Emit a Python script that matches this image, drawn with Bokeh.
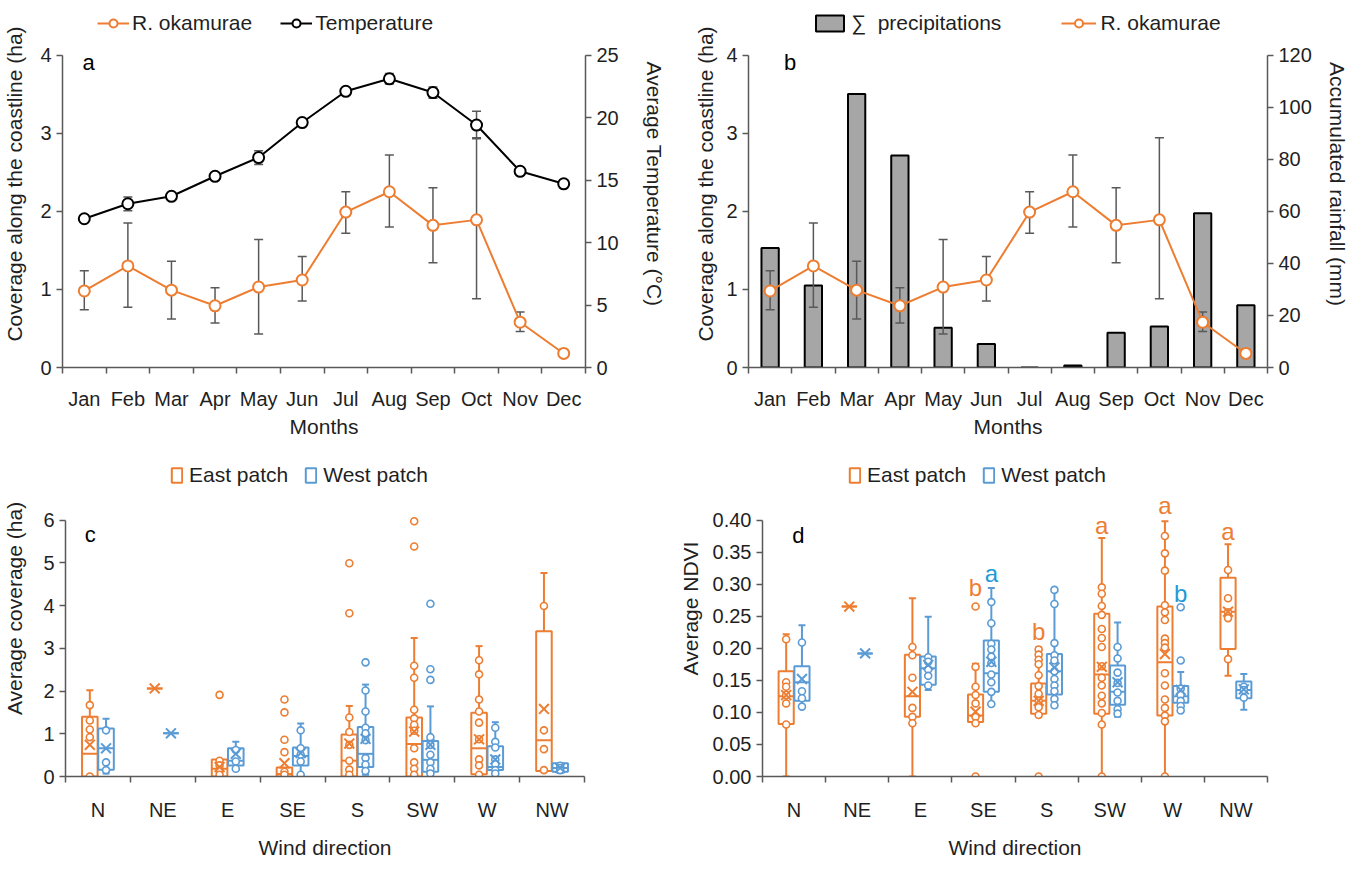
from bokeh.plotting import figure
from bokeh.models import Range1d, LinearAxis, FixedTicker, Legend, LegendItem, Label, NumeralTickFormatter
from bokeh.layouts import column, row
from bokeh.embed import file_html
from bokeh.resources import INLINE

# ---------------- data ----------------
months = ["Jan", "Feb", "Mar", "Apr", "May", "Jun", "Jul", "Aug", "Sep", "Oct", "Nov", "Dec"]
oka_mean = [0.98, 1.30, 0.99, 0.79, 1.03, 1.12, 1.99, 2.25, 1.82, 1.89, 0.58, 0.18]
oka_low = [0.74, 0.77, 0.62, 0.57, 0.43, 0.85, 1.72, 1.80, 1.34, 0.88, 0.46, 0.13]
oka_high = [1.24, 1.85, 1.36, 1.02, 1.64, 1.42, 2.25, 2.72, 2.30, 2.94, 0.71, 0.23]
temp_mean = [11.9, 13.1, 13.7, 15.3, 16.8, 19.6, 22.1, 23.1, 22.0, 19.4, 15.7, 14.7]
temp_err = [0.15, 0.55, 0.15, 0.15, 0.55, 0.15, 0.15, 0.42, 0.45, 1.1, 0.15, 0.15]
precip = [45.9, 31.5, 105.0, 81.4, 15.3, 9.0, 0.0, 0.8, 13.3, 15.7, 59.2, 23.9]

directions = ["N", "NE", "E", "SE", "S", "SW", "W", "NW"]

cov_east_q1 = [0.00, 2.06, 0.00, 0.00, 0.00, 0.00, 0.05, 0.13]
cov_east_med = [0.53, 2.06, 0.18, 0.06, 0.37, 0.76, 0.66, 0.85]
cov_east_q3 = [1.40, 2.06, 0.40, 0.21, 0.98, 1.38, 1.49, 3.40]
cov_east_lo = [0.00, 2.06, 0.00, 0.00, 0.00, 0.00, 0.00, 0.11]
cov_east_hi = [2.02, 2.06, 0.40, 0.21, 1.65, 3.24, 3.05, 4.76]
cov_east_mean = [0.74, 2.06, 0.22, 0.31, 0.77, 1.05, 0.87, 1.58]
cov_east_pts = [
    [1.67, 1.31, 1.10, 0.92, 0.00], [],
    [1.91, 0.37, 0.26, 0.15, 0.04],
    [1.80, 1.50, 0.86, 0.57, 0.11, 0.04],
    [4.99, 3.82, 1.38, 1.04, 0.74, 0.37, 0.16, 0.04],
    [5.97, 5.38, 2.59, 2.31, 1.56, 1.36, 1.21, 1.07, 0.66, 0.33, 0.18, 0.04],
    [2.72, 2.39, 1.80, 1.52, 1.26, 0.87, 0.40, 0.26, 0.04],
    [3.99, 1.08, 0.64, 0.15],
]
cov_west_q1 = [0.16, 1.01, 0.26, 0.26, 0.22, 0.11, 0.15, 0.11]
cov_west_med = [0.66, 1.01, 0.37, 0.48, 0.53, 0.39, 0.22, 0.20]
cov_west_q3 = [1.12, 1.01, 0.66, 0.68, 1.16, 0.83, 0.71, 0.31]
cov_west_lo = [0.07, 1.01, 0.16, 0.04, 0.04, 0.04, 0.05, 0.08]
cov_west_hi = [1.35, 1.01, 0.81, 1.24, 2.15, 1.64, 1.27, 0.31]
cov_west_mean = [0.66, 1.01, 0.53, 0.55, 0.88, 0.74, 0.40, 0.20]
cov_west_pts = [
    [1.08, 0.33, 0.15], [],
    [0.62, 0.35, 0.18],
    [1.08, 0.66, 0.51, 0.35, 0.04],
    [2.67, 2.01, 1.52, 1.14, 1.01, 0.85, 0.43, 0.28, 0.13],
    [4.04, 2.51, 2.26, 0.92, 0.74, 0.51, 0.33, 0.18, 0.07],
    [1.14, 0.81, 0.68, 0.40, 0.29, 0.15, 0.07],
    [0.25, 0.20, 0.15],
]

ndvi_east_q1 = [0.082, 0.265, 0.093, 0.085, 0.098, 0.098, 0.095, 0.199]
ndvi_east_med = [0.125, 0.265, 0.125, 0.095, 0.118, 0.159, 0.178, 0.257]
ndvi_east_q3 = [0.164, 0.265, 0.190, 0.128, 0.145, 0.254, 0.265, 0.310]
ndvi_east_lo = [0.000, 0.265, 0.000, 0.085, 0.098, 0.000, 0.000, 0.157]
ndvi_east_hi = [0.222, 0.265, 0.278, 0.176, 0.201, 0.372, 0.398, 0.362]
ndvi_east_mean = [0.127, 0.265, 0.132, 0.101, 0.118, 0.171, 0.191, 0.257]
ndvi_east_pts = [
    [0.214, 0.147, 0.140, 0.127, 0.114, 0.081], [],
    [0.202, 0.189, 0.154, 0.107, 0.093, 0.083],
    [0.265, 0.171, 0.140, 0.127, 0.114, 0.093, 0.083, 0.000],
    [0.198, 0.190, 0.182, 0.175, 0.158, 0.141, 0.129, 0.118, 0.108, 0.096, 0.000],
    [0.295, 0.285, 0.266, 0.252, 0.230, 0.216, 0.202, 0.172, 0.154, 0.142, 0.126, 0.114, 0.099, 0.081, 0.000],
    [0.375, 0.348, 0.321, 0.267, 0.256, 0.244, 0.215, 0.208, 0.201, 0.161, 0.142, 0.120, 0.107, 0.095, 0.086, 0.000],
    [0.322, 0.278, 0.256, 0.247, 0.183],
]
ndvi_west_q1 = [0.118, 0.192, 0.143, 0.132, 0.128, 0.112, 0.115, 0.122]
ndvi_west_med = [0.147, 0.192, 0.169, 0.161, 0.164, 0.132, 0.125, 0.135]
ndvi_west_q3 = [0.172, 0.192, 0.187, 0.212, 0.191, 0.173, 0.141, 0.148]
ndvi_west_lo = [0.109, 0.192, 0.135, 0.113, 0.108, 0.093, 0.103, 0.104]
ndvi_west_hi = [0.236, 0.192, 0.249, 0.294, 0.291, 0.240, 0.163, 0.160]
ndvi_west_mean = [0.152, 0.192, 0.174, 0.179, 0.170, 0.147, 0.135, 0.136]
ndvi_west_pts = [
    [0.209, 0.133, 0.122, 0.109], [],
    [0.186, 0.179, 0.167, 0.157, 0.142],
    [0.272, 0.239, 0.207, 0.198, 0.187, 0.177, 0.159, 0.147, 0.132, 0.113],
    [0.291, 0.269, 0.208, 0.189, 0.181, 0.164, 0.152, 0.142, 0.133, 0.121, 0.111],
    [0.202, 0.184, 0.162, 0.146, 0.131, 0.118, 0.105, 0.098],
    [0.264, 0.181, 0.137, 0.127, 0.118, 0.110, 0.103],
    [0.140, 0.135, 0.123],
]

sig_dir = ["SE", "SE", "S", "SW", "W", "W", "NW"]
sig_patch = ["East", "West", "East", "East", "East", "West", "East"]
sig_text = ["b", "a", "b", "a", "a", "b", "a"]
sig_y = [0.295, 0.317, 0.226, 0.391, 0.422, 0.285, 0.382]

# ---------------- style ----------------
FONT = "Liberation Sans"
TXT = "#1f1f1f"
AXC = "#595959"
ORANGE = "#ED7D31"
BLUE = "#5B9BD5"
SIGBLUE = "#1E9AD6"
FS = "20px"
FS_LAB = "21px"

# layout: the plotting frame reaches the top of each figure so that the legend
# (drawn inside the frame) sits above the axes; axis lines are bounded to the data span.
TOP_FRAME = 370      # px, panels a/b frame height (axis span 315 px)
TOP_SPAN = 315
BOT_FRAME = 355      # px, panels c/d frame height (axis span 271 px)
BOT_SPAN = 271


def style_axis(ax):
    ax.major_label_text_font = FONT
    ax.major_label_text_font_size = FS
    ax.major_label_text_color = TXT
    ax.axis_label_text_font = FONT
    ax.axis_label_text_font_size = FS_LAB
    ax.axis_label_text_font_style = "normal"
    ax.axis_label_text_color = TXT
    ax.axis_line_color = AXC
    ax.axis_line_width = 1.5
    ax.major_tick_line_color = AXC
    ax.major_tick_line_width = 1.5
    ax.minor_tick_line_color = AXC
    ax.minor_tick_line_width = 1.5
    ax.major_tick_in = 0
    ax.major_tick_out = 6
    ax.minor_tick_in = 0
    ax.minor_tick_out = 0


def cat_xaxis(ax, labels, standoff):
    n = len(labels)
    centers = [i + 0.5 for i in range(n)]
    ax.ticker = FixedTicker(ticks=centers, minor_ticks=list(range(n + 1)))
    ax.major_label_overrides = {c: lab for c, lab in zip(centers, labels)}
    ax.major_tick_out = 0
    ax.minor_tick_out = 6
    ax.major_label_standoff = standoff


def base_fig(w, h, left, right, bottom, xr, yr):
    p = figure(width=w, height=h, x_range=xr, y_range=yr, output_backend="svg",
               toolbar_location=None, min_border_left=left, min_border_right=right,
               min_border_top=0, min_border_bottom=bottom)
    p.outline_line_color = None
    p.grid.visible = False
    p.background_fill_color = "white"
    p.border_fill_color = "white"
    return p


def panel_label(p, x, y, text):
    p.add_layout(Label(x=x, y=y, text=text, text_font=FONT, text_font_size="22px",
                       text_color="black", text_align="center", text_baseline="middle"))


def add_legend(p, items, loc, spacing, gw, gh, standoff):
    leg = Legend(items=items, orientation="horizontal", location=loc, border_line_color=None,
                 background_fill_alpha=0, padding=0, margin=0, spacing=spacing,
                 glyph_width=gw, glyph_height=gh, label_standoff=standoff,
                 label_text_font=FONT, label_text_font_size=FS_LAB, label_text_color=TXT)
    p.add_layout(leg, "center")


xm = [i + 0.5 for i in range(len(months))]
ext_top = TOP_FRAME / TOP_SPAN   # frame height relative to the axis span
ext_bot = BOT_FRAME / BOT_SPAN

# ---------------- panel a ----------------
pa = base_fig(675, 440, 57, 90, 70, Range1d(0, 12), Range1d(0, 4 * ext_top))
pa.extra_y_ranges = {"temp": Range1d(0, 25 * ext_top)}
style_axis(pa.xaxis[0]); style_axis(pa.yaxis[0])
cat_xaxis(pa.xaxis[0], months, 14)
pa.xaxis[0].axis_label = "Months"
pa.xaxis[0].axis_label_standoff = 2
pa.yaxis[0].ticker = FixedTicker(ticks=[0, 1, 2, 3, 4])
pa.yaxis[0].bounds = (0, 4)
pa.yaxis[0].axis_label = "Coverage along the coastline (ha)"
pa.yaxis[0].axis_label_standoff = 11
ax_t = LinearAxis(y_range_name="temp", ticker=FixedTicker(ticks=[0, 5, 10, 15, 20, 25]),
                  axis_label="Average Temperature (°C)", bounds=(0, 25))
style_axis(ax_t)
ax_t.axis_label_standoff = 21
pa.add_layout(ax_t, "right")

t_lo = [m - e for m, e in zip(temp_mean, temp_err)]
t_hi = [m + e for m, e in zip(temp_mean, temp_err)]
pa.segment(x0=xm, y0=t_lo, x1=xm, y1=t_hi, y_range_name="temp", line_color=AXC, line_width=1.5)
pa.scatter(xm, t_lo, marker="dash", size=9, y_range_name="temp", line_color=AXC, line_width=1.5)
pa.scatter(xm, t_hi, marker="dash", size=9, y_range_name="temp", line_color=AXC, line_width=1.5)
pa.segment(x0=xm, y0=oka_low, x1=xm, y1=oka_high, line_color=AXC, line_width=1.5)
pa.scatter(xm, oka_low, marker="dash", size=9, line_color=AXC, line_width=1.5)
pa.scatter(xm, oka_high, marker="dash", size=9, line_color=AXC, line_width=1.5)
ta_line = pa.line(xm, temp_mean, y_range_name="temp", line_color="black", line_width=2)
ta_pts = pa.scatter(xm, temp_mean, y_range_name="temp", marker="circle", size=11,
                    fill_color="white", line_color="black", line_width=2)
ra_line = pa.line(xm, oka_mean, line_color=ORANGE, line_width=2)
ra_pts = pa.scatter(xm, oka_mean, marker="circle", size=11, fill_color="white",
                    line_color=ORANGE, line_width=2)
panel_label(pa, 0.6, 3.9, "a")
add_legend(pa, [LegendItem(label="R. okamurae", renderers=[ra_line, ra_pts]),
                LegendItem(label="Temperature", renderers=[ta_line, ta_pts])],
           (35, 332), 28, 32, 20, 3)

# ---------------- panel b ----------------
pb = base_fig(676, 440, 73, 79, 70, Range1d(0, 12), Range1d(0, 4 * ext_top))
pb.extra_y_ranges = {"rain": Range1d(0, 120 * ext_top)}
style_axis(pb.xaxis[0]); style_axis(pb.yaxis[0])
cat_xaxis(pb.xaxis[0], months, 14)
pb.xaxis[0].axis_label = "Months"
pb.xaxis[0].axis_label_standoff = 2
pb.yaxis[0].ticker = FixedTicker(ticks=[0, 1, 2, 3, 4])
pb.yaxis[0].bounds = (0, 4)
pb.yaxis[0].axis_label = "Coverage along the coastline (ha)"
pb.yaxis[0].axis_label_standoff = 6
ax_r = LinearAxis(y_range_name="rain", ticker=FixedTicker(ticks=[0, 20, 40, 60, 80, 100, 120]),
                  axis_label="Accumulated rainfall (mm)", bounds=(0, 120))
style_axis(ax_r)
ax_r.axis_label_standoff = 11
pb.add_layout(ax_r, "right")

bars = pb.vbar(x=xm, top=precip, bottom=0, width=0.4, y_range_name="rain",
               fill_color="#A6A6A6", line_color="black", line_width=2)
pb.segment(x0=xm, y0=oka_low, x1=xm, y1=oka_high, line_color=AXC, line_width=1.5)
pb.scatter(xm, oka_low, marker="dash", size=9, line_color=AXC, line_width=1.5)
pb.scatter(xm, oka_high, marker="dash", size=9, line_color=AXC, line_width=1.5)
rb_line = pb.line(xm, oka_mean, line_color=ORANGE, line_width=2)
rb_pts = pb.scatter(xm, oka_mean, marker="circle", size=11, fill_color="white",
                    line_color=ORANGE, line_width=2)
panel_label(pb, 0.96, 3.9, "b")
add_legend(pb, [LegendItem(label="\u2211\u00a0 precipitations", renderers=[bars]),
                LegendItem(label="R. okamurae", renderers=[rb_line, rb_pts])],
           (64, 332), 60, 35, 20, 4)


# ---------------- box plots ----------------
def draw_boxes(p, xoff, q1, med, q3, lo, hi, mean, pts, color, width=0.24):
    xs = [i + 0.5 + xoff for i in range(len(q1))]
    wx_u = [x for x, a, b in zip(xs, q3, hi) if b > a]
    wy_u0 = [a for a, b in zip(q3, hi) if b > a]
    wy_u1 = [b for a, b in zip(q3, hi) if b > a]
    wx_l = [x for x, a, b in zip(xs, q1, lo) if b < a]
    wy_l0 = [a for a, b in zip(q1, lo) if b < a]
    wy_l1 = [b for a, b in zip(q1, lo) if b < a]
    p.segment(x0=wx_u, y0=wy_u0, x1=wx_u, y1=wy_u1, line_color=color, line_width=2)
    p.segment(x0=wx_l, y0=wy_l0, x1=wx_l, y1=wy_l1, line_color=color, line_width=2)
    p.scatter(wx_u, wy_u1, marker="dash", size=7, line_color=color, line_width=2)
    p.scatter(wx_l, wy_l1, marker="dash", size=7, line_color=color, line_width=2)
    box = p.vbar(x=xs, bottom=q1, top=q3, width=width, fill_color="white", fill_alpha=0,
                 line_color=color, line_width=2)
    p.segment(x0=[x - width / 2 for x in xs], y0=med, x1=[x + width / 2 for x in xs], y1=med,
              line_color=color, line_width=2)
    px = [x for x, ps in zip(xs, pts) for _ in ps]
    py = [v for ps in pts for v in ps]
    p.scatter(px, py, marker="circle", size=7, fill_color="white", line_color=color, line_width=1.6)
    p.scatter(xs, mean, marker="x", size=14, line_color=color, line_width=2)
    return box


# ---------------- panel c ----------------
pc = base_fig(675, 421, 59, 91, 66, Range1d(0, 8), Range1d(0, 6 * ext_bot))
style_axis(pc.xaxis[0]); style_axis(pc.yaxis[0])
cat_xaxis(pc.xaxis[0], directions, 16)
pc.xaxis[0].axis_label = "Wind direction"
pc.xaxis[0].axis_label_standoff = 12
pc.yaxis[0].ticker = FixedTicker(ticks=[0, 1, 2, 3, 4, 5, 6])
pc.yaxis[0].bounds = (0, 6)
pc.yaxis[0].axis_label = "Average coverage (ha)"
pc.yaxis[0].axis_label_standoff = 14
be = draw_boxes(pc, -0.125, cov_east_q1, cov_east_med, cov_east_q3, cov_east_lo, cov_east_hi,
                cov_east_mean, cov_east_pts, ORANGE)
bw = draw_boxes(pc, 0.125, cov_west_q1, cov_west_med, cov_west_q3, cov_west_lo, cov_west_hi,
                cov_west_mean, cov_west_pts, BLUE)
panel_label(pc, 0.38, 5.66, "c")
add_legend(pc, [LegendItem(label="East patch", renderers=[be]),
                LegendItem(label="West patch", renderers=[bw])],
           (105, 289), 16, 13, 18, 6)

# ---------------- panel d ----------------
pd_ = base_fig(676, 421, 77, 84, 66, Range1d(0, 8), Range1d(0, 0.40 * ext_bot))
style_axis(pd_.xaxis[0]); style_axis(pd_.yaxis[0])
cat_xaxis(pd_.xaxis[0], directions, 16)
pd_.xaxis[0].axis_label = "Wind direction"
pd_.xaxis[0].axis_label_standoff = 12
pd_.yaxis[0].ticker = FixedTicker(ticks=[0, 0.05, 0.10, 0.15, 0.20, 0.25, 0.30, 0.35, 0.40])
pd_.yaxis[0].bounds = (0, 0.40)
pd_.yaxis[0].formatter = NumeralTickFormatter(format="0.00")
pd_.yaxis[0].axis_label = "Average NDVI"
pd_.yaxis[0].axis_label_standoff = 8
de = draw_boxes(pd_, -0.125, ndvi_east_q1, ndvi_east_med, ndvi_east_q3, ndvi_east_lo, ndvi_east_hi,
                ndvi_east_mean, ndvi_east_pts, ORANGE)
dw = draw_boxes(pd_, 0.125, ndvi_west_q1, ndvi_west_med, ndvi_west_q3, ndvi_west_lo, ndvi_west_hi,
                ndvi_west_mean, ndvi_west_pts, BLUE)
panel_label(pd_, 0.57, 0.376, "d")
for d, side, t, yv in zip(sig_dir, sig_patch, sig_text, sig_y):
    xv = directions.index(d) + 0.5 + (-0.125 if side == "East" else 0.125)
    pd_.add_layout(Label(x=xv, y=yv, text=t, text_font=FONT, text_font_size="24px",
                         text_color=ORANGE if side == "East" else SIGBLUE,
                         text_align="center", text_baseline="middle"))
add_legend(pd_, [LegendItem(label="East patch", renderers=[de]),
                 LegendItem(label="West patch", renderers=[dw])],
           (86, 289), 16, 13, 18, 6)

layout = column(row(pa, pb), row(pc, pd_))
open("out.html", "w").write(file_html(layout, INLINE))
